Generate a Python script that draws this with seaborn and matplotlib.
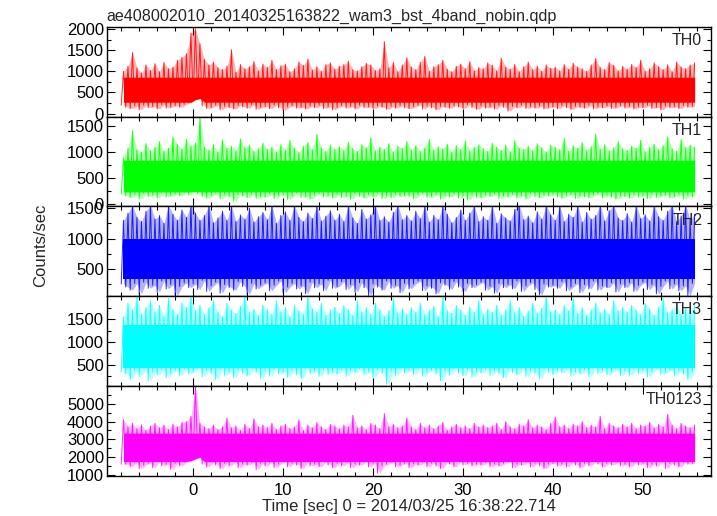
import matplotlib
matplotlib.use("Agg")
import matplotlib.pyplot as plt
from matplotlib.ticker import MultipleLocator, AutoMinorLocator
import numpy as np
import pandas as pd
import seaborn as sns

# time bins (start of each 0.5 s bin)
time_bins = np.arange(-8.0, 56.0, 0.5)

# per-bin peak (hi) and trough (lo) count rates
th0_hi = [1000, 1120, 1440, 1080, 960, 1150, 1020, 1180, 990, 1210, 1060, 1100, 1260, 1330, 1420, 1900,
          2000, 1650, 1280, 1150, 1220, 1090, 1040, 1120, 1510, 980, 1160, 1060, 1110, 1230, 1010, 1170,
          1090, 1260, 1040, 1130, 1170, 990, 1060, 1220, 1140, 1290, 1030, 1110, 1000, 1160, 1200, 1050,
          1120, 1160, 1240, 1040, 1010, 1110, 1190, 1150, 1020, 1060, 1700, 1080, 1210, 990, 1150, 1320,
          1100, 1040, 1210, 1350, 1000, 1110, 1160, 1260, 1050, 990, 1120, 1170, 1060, 1230, 1010, 1090,
          1060, 1200, 1140, 1010, 1310, 1100, 1050, 1160, 990, 1110, 1220, 1040, 1120, 1000, 1150, 1070,
          1100, 1010, 1160, 1050, 1190, 1100, 1060, 1000, 1150, 1300, 1090, 1040, 1210, 1140, 1010, 1120,
          1050, 1160, 1090, 1260, 1000, 1060, 1200, 1110, 1040, 1150, 990, 1220, 1100, 1060, 1150, 1200]
th0_lo = [200, 150, 120, 180, 90, 200, 140, 170, 110, 210, 130, 160, 190, 150, 220, 260,
          330, 360, 180, 120, 150, 200, 90, 170, 140, 110, 190, 160, 130, 210, 100, 150,
          170, 120, 200, 140, 80, 160, 190, 130, 150, 110, 180, 140, 200, 120, 160, 90,
          150, 190, 130, 170, 110, 200, 140, 160, 120, 180, 150, 100, 170, 130, 190, 140,
          120, 160, 200, 110, 180, 140, 90, 170, 150, 130, 190, 160, 120, 210, 140, 100,
          180, 130, 160, 110, 190, 150, 60, 170, 140, 200, 120, 160, 130, 180, 110, 150,
          160, 120, 190, 140, 100, 170, 150, 130, 200, 110, 160, 140, 180, 120, 150, 190,
          130, 170, 110, 160, 140, 200, 120, 150, 90, 180, 140, 160, 120, 190, 150, 170]

th1_hi = [900, 1080, 1420, 1050, 1000, 1170, 1030, 1100, 1210, 1020, 1080, 1300, 1150, 1060, 1250, 1120,
          1180, 1690, 1100, 1040, 1150, 1010, 1240, 1080, 1120, 1030, 1260, 1090, 1140, 1020, 1070, 1180,
          1060, 1100, 1010, 1150, 1040, 1230, 1080, 1000, 1120, 1190, 1050, 1350, 1090, 1020, 1140, 1060,
          1110, 1040, 1200, 1070, 1020, 1150, 1090, 1280, 1030, 1100, 1060, 1170, 1010, 1120, 1080, 1210,
          1050, 1130, 1020, 1090, 1250, 1040, 1110, 1070, 1160, 1000, 1130, 1060, 1220, 1030, 1100, 1150,
          1070, 1020, 1180, 1100, 1040, 1140, 1010, 1230, 1080, 1060, 1120, 1030, 1170, 1090, 1010, 1140,
          1100, 1050, 1270, 1020, 1130, 1080, 1190, 1040, 1110, 1350, 1060, 1150, 1030, 1090, 1210, 1070,
          1040, 1120, 1080, 1230, 1010, 1100, 1160, 1050, 1130, 1300, 1070, 1020, 1250, 1090, 1140, 1100]
th1_lo = [200, 160, 130, 190, 100, 210, 150, 180, 120, 220, 140, 170, 200, 160, 230, 180,
          250, 200, 150, 120, 170, 210, 100, 180, 140, 60, 190, 160, 130, 200, 110, 150,
          140, 200, 110, 170, 190, 90, 160, 220, 130, 150, 100, 180, 210, 140, 170, 120,
          190, 130, 160, 100, 200, 150, 120, 180, 140, 210, 110, 160, 130, 190, 150, 170,
          160, 110, 180, 210, 130, 150, 190, 100, 170, 140, 200, 120, 160, 80, 180, 140,
          130, 180, 150, 200, 110, 160, 140, 190, 120, 170, 100, 210, 150, 130, 180, 160,
          200, 140, 120, 170, 190, 110, 160, 150, 130, 180, 200, 120, 170, 140, 100, 160,
          150, 120, 190, 140, 170, 110, 200, 130, 160, 180, 120, 150, 190, 100, 170, 140]

th2_hi = [1300, 1420, 1550, 1350, 1280, 1450, 1550, 1320, 1380, 1250, 1550, 1400, 1300, 1470, 1350, 1550,
          1420, 1300, 1380, 1550, 1260, 1340, 1450, 1300, 1550, 1280, 1390, 1320, 1500, 1270, 1360, 1430,
          1310, 1550, 1250, 1380, 1440, 1300, 1550, 1350, 1280, 1420, 1330, 1550, 1290, 1370, 1460, 1300,
          1400, 1280, 1550, 1340, 1250, 1480, 1320, 1390, 1550, 1300, 1360, 1270, 1430, 1550, 1310, 1380,
          1290, 1450, 1330, 1550, 1270, 1380, 1310, 1550, 1400, 1260, 1350, 1470, 1300, 1420, 1550, 1280,
          1360, 1300, 1550, 1250, 1410, 1340, 1290, 1480, 1550, 1310, 1370, 1260, 1440, 1320, 1550, 1390,
          1300, 1550, 1280, 1400, 1350, 1550, 1270, 1430, 1320, 1380, 1550, 1290, 1460, 1550, 1340, 1300,
          1410, 1270, 1550, 1330, 1390, 1290, 1550, 1360, 1300, 1450, 1550, 1280, 1370, 1550, 1320, 1400]
th2_lo = [250, 200, 150, 260, 90, 280, 180, 230, 120, 300, 170, 240, 60, 210, 270, 190,
          250, 160, 310, 130, 220, 280, 100, 240, 190, 150, 290, 210, 80, 260, 170, 230,
          270, 140, 230, 300, 110, 200, 260, 170, 220, 90, 280, 190, 250, 140, 310, 180,
          210, 290, 160, 240, 120, 270, 190, 60, 250, 200, 150, 300, 180, 230, 110, 260,
          170, 250, 300, 140, 220, 180, 90, 270, 230, 160, 290, 200, 130, 260, 190, 240,
          280, 150, 210, 100, 260, 190, 240, 170, 300, 130, 220, 270, 160, 70, 250, 200,
          230, 180, 290, 140, 200, 260, 110, 240, 170, 300, 150, 220, 190, 270, 120, 250,
          190, 270, 130, 230, 280, 160, 240, 90, 210, 300, 170, 250, 140, 220, 60, 260]

th3_hi = [1550, 1850, 1700, 2000, 1600, 1750, 1900, 1650, 1800, 1550, 1950, 1700, 1600, 1850, 1750, 2000,
          1680, 1800, 1600, 1750, 1900, 1650, 1550, 1850, 1700, 1620, 1780, 2000, 1650, 1720, 1580, 1800,
          1700, 1600, 1900, 1650, 1750, 1550, 1800, 1680, 1600, 2000, 1720, 1650, 1850, 1580, 1700, 1760,
          1620, 1800, 1700, 1580, 1900, 1650, 1750, 1600, 1850, 1700, 1560, 1680, 1950, 1640, 1720, 1600,
          1750, 1650, 1850, 1600, 1700, 1780, 1550, 2000, 1680, 1620, 1800, 1700, 1580, 1760, 1650, 1900,
          1600, 1720, 1650, 1800, 1580, 1700, 1900, 1640, 1750, 1560, 1680, 1850, 1620, 1740, 2000, 1660,
          1700, 1600, 1800, 1680, 1950, 1620, 1750, 1580, 1700, 1850, 1640, 1720, 1600, 1900, 1680, 1760,
          1650, 1800, 1700, 1600, 1850, 1720, 1580, 1760, 1950, 1640, 1700, 1820, 1600, 1750, 1680, 1800]
th3_lo = [350, 300, 180, 380, 250, 420, 150, 350, 280, 400, 220, 330, 380, 260, 410, 300,
          350, 420, 240, 380, 300, 180, 400, 270, 350, 220, 390, 310, 260, 420, 330, 200,
          380, 260, 410, 300, 340, 230, 390, 280, 200, 420, 310, 360, 250, 400, 290, 340,
          300, 400, 250, 370, 330, 420, 280, 350, 220, 390, 310, 80, 360, 270, 410, 320,
          380, 290, 420, 250, 340, 390, 300, 150, 360, 280, 410, 320, 260, 400, 230, 350,
          320, 410, 270, 360, 300, 220, 390, 330, 280, 420, 250, 370, 310, 200, 400, 340,
          290, 380, 330, 410, 260, 350, 300, 390, 240, 420, 310, 370, 280, 340, 400, 260,
          360, 270, 400, 310, 380, 240, 350, 420, 290, 330, 390, 260, 370, 300, 180, 350]

th0123_hi = [4100, 3700, 3900, 3600, 3800, 3500, 3750, 3900, 3650, 3800, 3550, 3850, 3700, 3950, 4000, 4300,
             6000, 3900, 3700, 3600, 3800, 3550, 3700, 4200, 3650, 3750, 3500, 3850, 3600, 4150, 3700, 3800,
             3650, 3900, 3550, 3750, 3850, 3600, 3700, 4100, 3500, 3800, 3650, 3950, 3700, 3550, 3850, 3750,
             3600, 3800, 3700, 4350, 3650, 3750, 3550, 3900, 3800, 3600, 4450, 3700, 3850, 3650, 3750, 4200,
             3700, 3550, 3900, 3650, 3800, 3600, 3750, 3950, 3500, 3700, 3850, 3650, 3750, 3600, 3900, 3700,
             3800, 3650, 3750, 3900, 3550, 4000, 3700, 3600, 3850, 3750, 4100, 3650, 3800, 3700, 3550, 3900,
             4250, 3700, 3800, 3600, 3850, 3750, 4000, 3650, 3800, 3700, 4300, 3600, 3900, 3750, 3650, 3850,
             3700, 3900, 3600, 3800, 3750, 3950, 3650, 3850, 3700, 4400, 3800, 3600, 3900, 3750, 3650, 3800]
th0123_lo = [1600, 1600, 1450, 1700, 1350, 1550, 1650, 1400, 1750, 1500, 1600, 1300, 1650, 1500, 1700, 1800,
             1900, 2000, 1600, 1450, 1700, 1550, 1350, 1650, 1500, 1750, 1400, 1600, 1550, 1700, 1300, 1650,
             1500, 1700, 1400, 1600, 1750, 1450, 1650, 1550, 1350, 1700, 1500, 1600, 1450, 1750, 1550, 1400,
             1650, 1500, 1700, 1400, 1600, 1550, 1750, 1450, 1650, 1100, 1500, 1600, 1700, 1450, 1550, 1650,
             1400, 1600, 1550, 1700, 1450, 1650, 1500, 1350, 1700, 1600, 1450, 1750, 1550, 1650, 1500, 1600,
             1550, 1700, 1450, 1600, 1500, 1650, 1750, 1400, 1600, 1550, 1700, 1450, 1650, 1500, 1350, 1600,
             1650, 1500, 1600, 1450, 1700, 1550, 1400, 1650, 1500, 1750, 1600, 1450, 1650, 1550, 1700, 1500,
             1600, 1450, 1700, 1550, 1650, 1400, 1600, 1500, 1750, 1350, 1650, 1550, 1450, 1700, 1600, 1650]

# dense (solid-looking) part of each light curve
core_lo = [270, 240, 340, 440, 1750]
core_hi = [860, 850, 1000, 1380, 3350]

bands = ["TH0", "TH1", "TH2", "TH3", "TH0123"]
colors = ["#ff0000", "#00ff00", "#0000ff", "#00ffff", "#ff00ff"]
highs = [th0_hi, th1_hi, th2_hi, th3_hi, th0123_hi]
lows = [th0_lo, th1_lo, th2_lo, th3_lo, th0123_lo]
ylims = [(-70, 2050), (-40, 1690), (50, 1530), (40, 2000), (950, 6000)]
yticks = [[0, 500, 1000, 1500, 2000], [0, 500, 1000, 1500], [500, 1000, 1500],
          [500, 1000, 1500], [1000, 2000, 3000, 4000, 5000]]

sns.set_theme(style="ticks")
plt.rcParams["font.family"] = ["Liberation Sans", "DejaVu Sans"]

fig = plt.figure(figsize=(7.17, 5.16), dpi=100)
gs = fig.add_gridspec(5, 1, left=0.149, right=0.992, top=0.948, bottom=0.078, hspace=0)
axes = [fig.add_subplot(gs[i]) for i in range(5)]

for i, ax in enumerate(axes):
    # interleave each bin's trough and peak so the line sweeps the noise band
    df = pd.DataFrame({
        "time": np.ravel(np.column_stack([time_bins, time_bins + 0.25])),
        "rate": np.ravel(np.column_stack([lows[i], highs[i]])),
    })
    # light outer envelope of the noise
    ax.fill_between(time_bins + 0.25, lows[i], highs[i], color=colors[i], alpha=0.3, lw=0)
    sns.lineplot(data=df, x="time", y="rate", sort=False, estimator=None,
                 color=colors[i], lw=0.7, alpha=0.85, ax=ax)
    # saturated dense core
    ax.fill_between(time_bins + 0.25, np.maximum(lows[i], core_lo[i]),
                    np.minimum(highs[i], core_hi[i]), color=colors[i], lw=0)
    ax.set_xlim(-9.6, 57.6)
    ax.set_ylim(*ylims[i])
    ax.set_yticks(yticks[i])
    ax.xaxis.set_major_locator(MultipleLocator(10))
    ax.xaxis.set_minor_locator(AutoMinorLocator(5))
    ax.yaxis.set_minor_locator(AutoMinorLocator(2))
    ax.tick_params(which="both", direction="in", top=True, right=True,
                   labelsize=12, colors="black", width=0.8, pad=2)
    ax.tick_params(which="major", length=6)
    ax.tick_params(which="minor", length=3)
    ax.tick_params(axis="x", pad=5)
    for sp in ax.spines.values():
        sp.set_linewidth(1.0)
        sp.set_color("black")
    ax.set_xlabel("")
    ax.set_ylabel("")
    ax.text(0.985, 0.93, bands[i], transform=ax.transAxes, ha="right", va="top",
            fontsize=11.5)
    if i < 4:
        ax.tick_params(labelbottom=False)

axes[0].set_title("ae408002010_20140325163822_wam3_bst_4band_nobin.qdp",
                  loc="left", fontsize=11.6, pad=4)
axes[-1].set_xlabel("Time [sec] 0 = 2014/03/25 16:38:22.714", fontsize=12, labelpad=1)
fig.text(0.057, 0.525, "Counts/sec", rotation=90, ha="center", va="center", fontsize=12)

fig.savefig("out.png", dpi=100)
